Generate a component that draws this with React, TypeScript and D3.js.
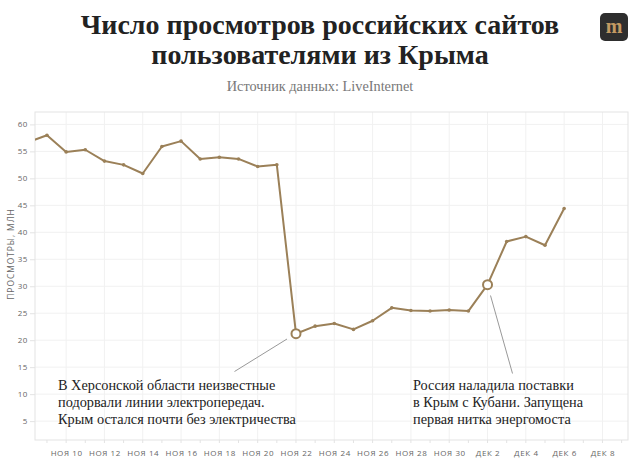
import React, { useEffect, useRef } from 'react';
import * as d3 from 'd3';

// дни (ноябрь 8 – декабрь 6), млн просмотров в сутки
const days = [
  '2015-11-08', '2015-11-09', '2015-11-10', '2015-11-11', '2015-11-12', '2015-11-13',
  '2015-11-14', '2015-11-15', '2015-11-16', '2015-11-17', '2015-11-18', '2015-11-19',
  '2015-11-20', '2015-11-21', '2015-11-22', '2015-11-23', '2015-11-24', '2015-11-25',
  '2015-11-26', '2015-11-27', '2015-11-28', '2015-11-29', '2015-11-30', '2015-12-01',
  '2015-12-02', '2015-12-03', '2015-12-04', '2015-12-05', '2015-12-06'
];
const views = [
  56.7, 58.0, 54.9, 55.3, 53.2, 52.5,
  50.9, 55.9, 56.9, 53.6, 53.9, 53.6,
  52.2, 52.5, 21.2, 22.6, 23.1, 22.0,
  23.6, 26.0, 25.5, 25.4, 25.6, 25.4,
  30.3, 38.3, 39.2, 37.6, 44.4
];
const yTicks = [5, 10, 15, 20, 25, 30, 35, 40, 45, 50, 55, 60];
const monthNames = ['ЯНВ', 'ФЕВ', 'МАР', 'АПР', 'МАЙ', 'ИЮН', 'ИЮЛ', 'АВГ', 'СЕН', 'ОКТ', 'НОЯ', 'ДЕК'];

const titleLines = ['Число просмотров российских сайтов', 'пользователями из Крыма'];
const subtitle = 'Источник данных: LiveInternet';

const notes = [
  {
    day: '2015-11-22',
    lines: ['В Херсонской области неизвестные', 'подорвали линии электропередач.', 'Крым остался почти без электричества']
  },
  {
    day: '2015-12-02',
    lines: ['Россия наладила поставки', 'в Крым с Кубани. Запущена', 'первая нитка энергомоста']
  }
];

const parse = d3.timeParse('%Y-%m-%d');

export default function App() {
  const ref = useRef<SVGSVGElement>(null);

  useEffect(() => {
    const svg = d3.select(ref.current);
    svg.selectAll('*').remove();

    const width = 640, height = 470;
    const margin = { top: 112, right: 12, bottom: 30, left: 35 };
    const w = width - margin.left - margin.right;
    const h = height - margin.top - margin.bottom;

    const data = days.map((d, i) => ({ date: parse(d) as Date, value: views[i] }));

    const x = d3.scaleTime()
      .domain([d3.timeHour.offset(parse('2015-11-08') as Date, 9.6), d3.timeHour.offset(parse('2015-12-09') as Date, 8.9)])
      .range([0, w]);
    const y = d3.scaleLinear().domain([1.5, 62.3]).range([h, 0]);

    // заголовок
    svg.append('g').selectAll('text')
      .data(titleLines)
      .enter().append('text')
        .attr('x', 320)
        .attr('y', (d, i) => 34 + i * 29.5)
        .attr('text-anchor', 'middle')
        .style('font', 'bold 28px "Liberation Serif", serif')
        .style('fill', '#222')
        .text(d => d);

    svg.append('text')
      .attr('x', 320)
      .attr('y', 91)
      .attr('text-anchor', 'middle')
      .style('font', '14.3px "Liberation Serif", serif')
      .style('fill', '#777')
      .text(subtitle);

    // логотип
    const logo = svg.append('g').attr('transform', 'translate(600,13)');
    logo.append('rect').attr('width', 28).attr('height', 28).attr('rx', 5).style('fill', '#2e2e2e');
    logo.append('text')
      .attr('x', 14).attr('y', 20)
      .attr('text-anchor', 'middle')
      .style('font', 'bold 20px "Liberation Serif", serif')
      .style('fill', '#c39a62')
      .text('m');

    const g = svg.append('g').attr('transform', 'translate(' + margin.left + ',' + margin.top + ')');

    g.append('clipPath').attr('id', 'plot-clip')
      .append('rect').attr('width', w).attr('height', h);

    // сетка
    const evenDays = d3.timeDay.range(parse('2015-11-10') as Date, parse('2015-12-09') as Date, 2);

    g.selectAll('.vgrid')
      .data(evenDays)
      .enter().append('line')
        .attr('x1', d => x(d)).attr('x2', d => x(d))
        .attr('y1', 0).attr('y2', h)
        .style('stroke', '#f1f1f1');

    g.selectAll('.hgrid')
      .data(yTicks)
      .enter().append('line')
        .attr('x1', 0).attr('x2', w)
        .attr('y1', d => y(d)).attr('y2', d => y(d))
        .style('stroke', '#f1f1f1');

    g.append('rect')
      .attr('width', w).attr('height', h)
      .style('fill', 'none')
      .style('stroke', '#e3e3e3');

    // оси
    const yAxis = g.append('g')
      .call(d3.axisLeft(y).tickValues(yTicks).tickSize(5).tickPadding(2));
    const xAxis = g.append('g')
      .attr('transform', 'translate(0,' + h + ')')
      .call(d3.axisBottom(x)
        .tickValues(evenDays)
        .tickSize(0)
        .tickPadding(10)
        .tickFormat(d => monthNames[(d as Date).getMonth()] + ' ' + (d as Date).getDate()));

    g.append('g')
      .attr('transform', 'translate(0,' + h + ')')
      .selectAll('line')
      .data(d3.timeDay.range(parse('2015-11-09') as Date, parse('2015-12-10') as Date).filter(d => x(d) <= w))
      .enter().append('line')
        .attr('x1', d => x(d)).attr('x2', d => x(d))
        .attr('y1', 0).attr('y2', 3)
        .style('stroke', '#e3e3e3');

    [yAxis, xAxis].forEach(a => {
      a.select('.domain').remove();
      a.selectAll('.tick line').style('stroke', '#e3e3e3');
      a.selectAll('text')
        .style('font', '8px "Open Sans", sans-serif')
        .style('letter-spacing', '0.6px')
        .style('fill', '#666');
    });

    g.append('text')
      .attr('transform', 'rotate(-90)')
      .attr('x', -(254 - margin.top))
      .attr('y', -21)
      .attr('text-anchor', 'middle')
      .style('font', '8.5px "Open Sans", sans-serif')
      .style('letter-spacing', '0.9px')
      .style('fill', '#666')
      .text('ПРОСМОТРЫ, МЛН');

    // линия
    const line = d3.line<{ date: Date, value: number }>()
      .x(d => x(d.date))
      .y(d => y(d.value));

    const plot = g.append('g').attr('clip-path', 'url(#plot-clip)');
    plot.append('path')
      .datum(data)
      .attr('d', line)
      .style('fill', 'none')
      .style('stroke', '#9b8058')
      .style('stroke-width', 2)
      .style('stroke-linejoin', 'round');

    plot.selectAll('.dot')
      .data(data)
      .enter().append('circle')
        .attr('r', 1.8)
        .attr('cx', d => x(d.date))
        .attr('cy', d => y(d.value))
        .style('fill', '#9b8058');

    // подписи событий
    const noteLeaders = [
      { from: [234.5, 371.5], to: [287, 339] },
      { from: [490.5, 295.5], to: [512.5, 373.5] }
    ];
    const noteText = [[58, 389.5], [413, 389.5]];

    notes.forEach((n, i) => {
      const p = data.find(d => d3.timeFormat('%Y-%m-%d')(d.date) === n.day)!;
      svg.append('line')
        .attr('x1', noteLeaders[i].from[0]).attr('y1', noteLeaders[i].from[1])
        .attr('x2', noteLeaders[i].to[0]).attr('y2', noteLeaders[i].to[1])
        .style('stroke', '#999')
        .style('stroke-width', 1);

      g.append('circle')
        .attr('r', 4.5)
        .attr('cx', x(p.date))
        .attr('cy', y(p.value))
        .style('fill', '#fff')
        .style('stroke', '#9b8058')
        .style('stroke-width', 2);

      svg.append('g').selectAll('text')
        .data(n.lines)
        .enter().append('text')
          .attr('x', noteText[i][0])
          .attr('y', (d, k) => noteText[i][1] + k * 17.3)
          .style('font', '14.3px "Liberation Serif", serif')
          .style('fill', '#222')
          .text(d => d);
    });
  }, []);

  return (
    <svg ref={ref} width={640} height={470} style={{ position: 'absolute', left: 0, top: 0, background: '#fff' }} />
  );
}
